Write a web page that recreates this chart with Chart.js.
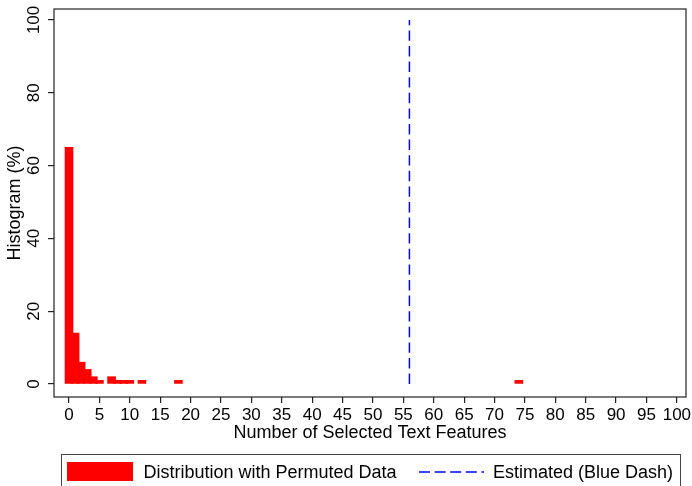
<!DOCTYPE html>
<html lang="en">
<head>
<meta charset="UTF-8">
<title>Histogram of Selected Text Features</title>
<script src="https://cdn.jsdelivr.net/npm/chart.js"></script>
<style>
  html, body { margin: 0; padding: 0; background: #fff; }
  canvas { display: block; }
</style>
</head>
<body>
<canvas id="histChart" width="692" height="486"></canvas>
<script>
// permuted runs: number of selected features and share of runs (%)
const featureCounts = [0, 1, 2, 3, 4, 5, 7, 8, 9, 10, 12, 18, 74];
const sharePercent  = [65, 14, 6, 4, 2, 1, 2, 1, 1, 1, 1, 1, 1];
// estimate on the real data (blue dash)
const estimatedCount = 56;
const estimatedSpan = [0, 100];

const xTickValues = [0, 5, 10, 15, 20, 25, 30, 35, 40, 45, 50, 55, 60, 65, 70, 75, 80, 85, 90, 95, 100];
const yTickValues = [0, 20, 40, 60, 80, 100];
const legendLabels = ['Distribution with Permuted Data', 'Estimated (Blue Dash)'];

const FONT = '"Liberation Sans", Arial, Helvetica, sans-serif';
Chart.defaults.font.family = FONT;
Chart.defaults.color = '#000';

// frame, rotated y labels and the boxed legend (stata look)
const stataExtras = {
  id: 'stataExtras',
  afterDraw(chart) {
    const { ctx, chartArea: a } = chart;
    const y = chart.scales.y;
    ctx.save();
    ctx.strokeStyle = '#222';
    ctx.lineWidth = 1.2;
    ctx.strokeRect(a.left, a.top, a.right - a.left, a.bottom - a.top);

    ctx.fillStyle = '#000';
    ctx.font = '17px ' + FONT;
    ctx.textAlign = 'center';
    ctx.textBaseline = 'alphabetic';
    yTickValues.forEach(v => {
      ctx.save();
      ctx.translate(38.5, y.getPixelForValue(v));
      ctx.rotate(-Math.PI / 2);
      ctx.fillText(String(v), 0, 0);
      ctx.restore();
    });

    // legend box
    ctx.strokeStyle = '#444';
    ctx.lineWidth = 1;
    ctx.strokeRect(61.5, 454.5, 619, 40);
    ctx.fillStyle = '#ff0000';
    ctx.fillRect(67, 462, 66, 19);
    ctx.fillStyle = '#000';
    ctx.font = '18px ' + FONT;
    ctx.textAlign = 'left';
    ctx.fillText(legendLabels[0], 143.5, 477.5);
    ctx.strokeStyle = '#0000ff';
    ctx.lineWidth = 1.5;
    ctx.setLineDash([11, 4.6]);
    ctx.beginPath();
    ctx.moveTo(419, 472);
    ctx.lineTo(484, 472);
    ctx.stroke();
    ctx.setLineDash([]);
    ctx.fillText(legendLabels[1], 493, 477.5);
    ctx.restore();
  }
};

const tickGrid = {
  display: true,
  drawOnChartArea: false,
  drawTicks: true,
  tickLength: 6,
  offset: false,
  color: '#222',
  lineWidth: 1.2
};

new Chart(document.getElementById('histChart'), {
  type: 'bar',
  data: {
    datasets: [
      {
        type: 'bar',
        label: legendLabels[0],
        data: featureCounts.map((c, i) => ({ x: c, y: sharePercent[i] })),
        backgroundColor: '#ff0000',
        borderWidth: 0,
        barThickness: 8
      },
      {
        type: 'line',
        label: legendLabels[1],
        data: estimatedSpan.map(v => ({ x: estimatedCount, y: v })),
        borderColor: '#0000ff',
        borderWidth: 1.5,
        borderDash: [10.4, 5.2],
        pointRadius: 0,
        fill: false
      }
    ]
  },
  options: {
    responsive: false,
    animation: false,
    layout: { padding: { top: 9, right: 6, bottom: 39, left: 0 } },
    plugins: {
      legend: { display: false },
      tooltip: { enabled: false }
    },
    scales: {
      x: {
        type: 'linear',
        offset: false,
        min: -2.47,
        max: 101.5,
        afterBuildTicks: s => { s.ticks = xTickValues.map(v => ({ value: v })); },
        afterFit: s => { s.height = 50; s.paddingLeft = 0; s.paddingRight = 0; },
        grid: tickGrid,
        border: { display: false },
        ticks: { color: '#000', font: { size: 17 }, padding: 2, maxRotation: 0, autoSkip: false },
        title: {
          display: true,
          text: 'Number of Selected Text Features',
          color: '#000',
          font: { size: 18 },
          padding: { top: 0, bottom: 3 }
        }
      },
      y: {
        type: 'linear',
        min: -3.57,
        max: 103,
        afterBuildTicks: s => { s.ticks = yTickValues.map(v => ({ value: v })); },
        afterFit: s => { s.width = 54; },
        grid: tickGrid,
        border: { display: false },
        ticks: { display: false },
        title: {
          display: true,
          text: 'Histogram (%)',
          color: '#000',
          font: { size: 18 },
          padding: { top: 4, bottom: 0 }
        }
      }
    }
  },
  plugins: [stataExtras]
});
</script>
</body>
</html>
